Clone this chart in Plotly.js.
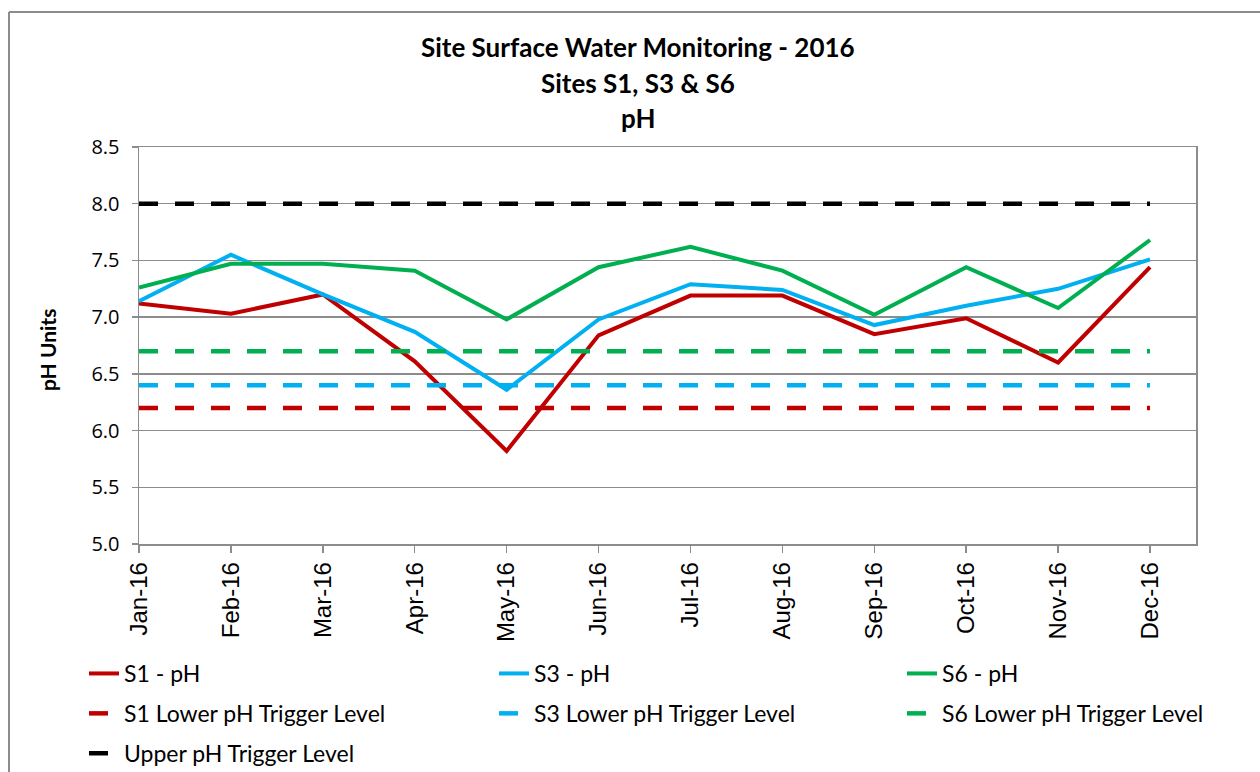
<!DOCTYPE html>
<html>
<head>
<meta charset="utf-8">
<script src="https://cdn.plot.ly/plotly-3.0.1.min.js"></script>
<style>
html,body{margin:0;padding:0;background:#fff;}
#chart{width:1260px;height:772px;}
</style>
</head>
<body>
<div id="chart"></div>
<script>
const months = ["Jan-16","Feb-16","Mar-16","Apr-16","May-16","Jun-16","Jul-16","Aug-16","Sep-16","Oct-16","Nov-16","Dec-16"];
const s1pH = [7.12, 7.03, 7.20, 6.61, 5.82, 6.84, 7.19, 7.19, 6.85, 6.99, 6.60, 7.44];
const s3pH = [7.14, 7.55, 7.20, 6.87, 6.36, 6.98, 7.29, 7.24, 6.93, 7.10, 7.25, 7.51];
const s6pH = [7.26, 7.47, 7.47, 7.41, 6.98, 7.44, 7.62, 7.41, 7.02, 7.44, 7.08, 7.68];
const s1Lower = [6.2, 6.2, 6.2, 6.2, 6.2, 6.2, 6.2, 6.2, 6.2, 6.2, 6.2, 6.2];
const s3Lower = [6.4, 6.4, 6.4, 6.4, 6.4, 6.4, 6.4, 6.4, 6.4, 6.4, 6.4, 6.4];
const s6Lower = [6.7, 6.7, 6.7, 6.7, 6.7, 6.7, 6.7, 6.7, 6.7, 6.7, 6.7, 6.7];
const upper = [8.0, 8.0, 8.0, 8.0, 8.0, 8.0, 8.0, 8.0, 8.0, 8.0, 8.0, 8.0];
const yTicks = [5.0, 5.5, 6.0, 6.5, 7.0, 7.5, 8.0, 8.5];
const titleLines = ["Site Surface Water Monitoring - 2016", "Sites S1, S3 & S6", "pH"];

const RED = "#C00000", BLUE = "#00B0F0", GREEN = "#00B050", BLACK = "#000000";
const DASH = "19px,17px";

function solid(name, y, color, lg) {
  return {x: months, y: y, name: name, type: "scatter", mode: "lines",
    line: {color: color, width: 4}, hoverinfo: "skip", legend: lg, legendgroup: name};
}
function dashed(name, y, color, lg) {
  return {x: months, y: y, name: name, type: "scatter", mode: "lines",
    line: {color: color, width: 4.5, dash: DASH}, hoverinfo: "skip", legend: lg, legendgroup: name};
}

const data = [
  solid("S1 - pH", s1pH, RED, "legend"),
  solid("S3 - pH", s3pH, BLUE, "legend2"),
  solid("S6 - pH", s6pH, GREEN, "legend3"),
  dashed("S1 Lower pH Trigger Level", s1Lower, RED, "legend"),
  dashed("S3 Lower pH Trigger Level", s3Lower, BLUE, "legend2"),
  dashed("S6 Lower pH Trigger Level", s6Lower, GREEN, "legend3"),
  dashed("Upper pH Trigger Level", upper, BLACK, "legend")
];

const W = 1260, H = 772;
const L = 139, R = 1196, T = 147, B = 544;
const px2x = p => (p - L) / (R - L);
const px2y = p => (B - p) / (B - T);

const legendFont = {family: "Lato, 'Open Sans', sans-serif", size: 23, color: "#000"};
function legendAt(xPx) {
  return {orientation: "v", xref: "container", yref: "container",
    x: xPx / W, y: 1 - 652 / H, xanchor: "left", yanchor: "top",
    tracegroupgap: 7, traceorder: "grouped",
    font: legendFont, bgcolor: "rgba(0,0,0,0)", borderwidth: 0, itemclick: false, itemdoubleclick: false};
}

const annotations = titleLines.map((t, i) => ({
  text: "<b>" + t + "</b>", xref: "paper", yref: "paper",
  x: px2x(638), y: px2y([47, 83, 118][i]), xanchor: "center", yanchor: "middle",
  showarrow: false, font: {family: "Lato, 'Open Sans', sans-serif", size: 26, color: "#000"}
}));
annotations.push({
  text: "<b>pH Units</b>", xref: "paper", yref: "paper",
  x: px2x(47), y: px2y(350), xanchor: "center", yanchor: "middle", textangle: -90,
  showarrow: false, font: {family: "Lato, 'Open Sans', sans-serif", size: 21, color: "#000"}
});

const layout = {
  width: W, height: H,
  margin: {l: L, r: W - R, t: T, b: H - B, pad: 0, autoexpand: false},
  paper_bgcolor: "#fff", plot_bgcolor: "#fff",
  showlegend: true,
  xaxis: {
    type: "category", categoryorder: "array", categoryarray: months,
    range: [0, 11.5], tickangle: -90, automargin: false,
    showline: true, mirror: true, linecolor: "#8C8C8C", linewidth: 1.5,
    showgrid: false, zeroline: false,
    ticks: "outside", ticklen: 7, tickcolor: "#8C8C8C", tickwidth: 1.5,
    tickfont: {family: "'Liberation Sans', Arial, sans-serif", size: 24, color: "#000"},
    fixedrange: true
  },
  yaxis: {
    range: [5.0, 8.5], tickvals: yTicks, tickformat: ".1f", automargin: false,
    showline: true, mirror: true, linecolor: "#8C8C8C", linewidth: 1.5,
    showgrid: true, gridcolor: "#8C8C8C", gridwidth: 1.5, zeroline: false,
    ticks: "outside", ticklen: 6, tickcolor: "#8C8C8C", tickwidth: 1.5,
    ticklabelstandoff: 8,
    tickfont: {family: "'Open Sans', sans-serif", size: 20, color: "#000"},
    fixedrange: true
  },
  legend: legendAt(84),
  legend2: legendAt(494),
  legend3: legendAt(902),
  annotations: annotations,
  shapes: [
    {type: "line", xref: "paper", yref: "paper", x0: px2x(9), x1: px2x(9), y0: px2y(12), y1: px2y(H + 5),
     line: {color: "#8C8C8C", width: 2}},
    {type: "line", xref: "paper", yref: "paper", x0: px2x(9), x1: px2x(W + 5), y0: px2y(12), y1: px2y(12),
     line: {color: "#8C8C8C", width: 2}}
  ]
};

Plotly.newPlot("chart", data, layout, {displayModeBar: false, staticPlot: true});
</script>
</body>
</html>
